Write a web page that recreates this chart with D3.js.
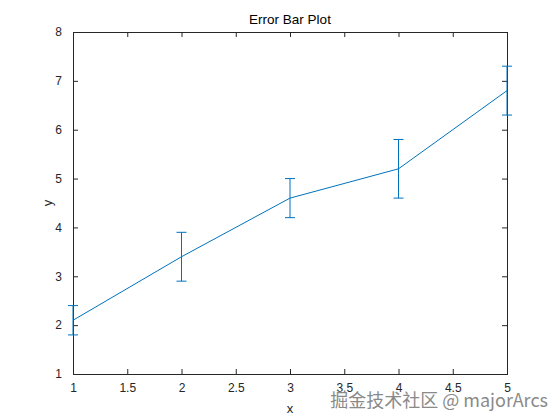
<!DOCTYPE html>
<html><head><meta charset="utf-8">
<script src="https://cdn.jsdelivr.net/npm/d3@7"></script>
<style>body{margin:0;background:#fff;} text{font-family:"Liberation Sans",Arial,sans-serif;}</style>
</head><body>
<svg id="c" width="560" height="420"></svg>
<script>
const xValues = [1, 2, 3, 4, 5];
const yValues = [2.1, 3.4, 4.6, 5.2, 6.8];
const errValues = [0.3, 0.5, 0.4, 0.6, 0.5];
const xTicks = [1, 1.5, 2, 2.5, 3, 3.5, 4, 4.5, 5];
const yTicks = [1, 2, 3, 4, 5, 6, 7, 8];

const svg = d3.select("#c");
const L = 73, R = 507, T = 32, B = 374;
const axisColor = "#262626", lineColor = "#0072BD";
const x = d3.scaleLinear().domain([1, 5]).range([L, R]);
const y = d3.scaleLinear().domain([1, 8]).range([B, T]);

function styleAxis(g){
  g.select(".domain").remove();
  g.selectAll("line").attr("stroke", axisColor);
  g.selectAll("text").attr("fill", axisColor).style("font-size", "12px");
}
svg.append("g").attr("transform", `translate(0,${B})`)
  .call(d3.axisBottom(x).tickValues(xTicks).tickSizeInner(-5).tickSizeOuter(0).tickPadding(9).tickFormat(d3.format("")))
  .call(styleAxis);
svg.append("g").attr("transform", `translate(0,${T})`)
  .call(d3.axisTop(x).tickValues(xTicks).tickSizeInner(-5).tickSizeOuter(0).tickFormat(""))
  .call(styleAxis);
svg.append("g").attr("transform", `translate(${L},0)`)
  .call(d3.axisLeft(y).tickValues(yTicks).tickSizeInner(-5).tickSizeOuter(0).tickPadding(11).tickFormat(d3.format("")))
  .call(styleAxis);
svg.append("g").attr("transform", `translate(${R},0)`)
  .call(d3.axisRight(y).tickValues(yTicks).tickSizeInner(-5).tickSizeOuter(0).tickFormat(""))
  .call(styleAxis);
svg.append("rect").attr("x", L).attr("y", T).attr("width", R - L).attr("height", B - T)
  .attr("fill", "none").attr("stroke", axisColor).attr("stroke-width", 1).attr("shape-rendering", "crispEdges");

const data = xValues.map((v, i) => ({x: v, y: yValues[i], e: errValues[i]}));
svg.append("path").datum(data)
  .attr("d", d3.line().x(d => x(d.x)).y(d => y(d.y)))
  .attr("fill", "none").attr("stroke", lineColor).attr("stroke-width", 1);
const eb = svg.append("g").attr("stroke", lineColor).attr("stroke-width", 1);
data.forEach(d => {
  const cx = x(d.x);
  eb.append("line").attr("x1", cx).attr("x2", cx).attr("y1", y(d.y - d.e)).attr("y2", y(d.y + d.e));
  eb.append("line").attr("x1", cx - 5).attr("x2", cx + 5).attr("y1", y(d.y + d.e)).attr("y2", y(d.y + d.e));
  eb.append("line").attr("x1", cx - 5).attr("x2", cx + 5).attr("y1", y(d.y - d.e)).attr("y2", y(d.y - d.e));
});

svg.append("text").attr("x", (L + R) / 2).attr("y", 24).attr("text-anchor", "middle")
  .attr("fill", "#000").style("font-size", "13.5px").text("Error Bar Plot");
svg.append("text").attr("x", (L + R) / 2).attr("y", 413).attr("text-anchor", "middle")
  .attr("fill", axisColor).style("font-size", "13px").text("x");
svg.append("text").attr("transform", `translate(52,${(T + B) / 2}) rotate(-90)`).attr("text-anchor", "middle")
  .attr("fill", axisColor).style("font-size", "13px").text("y");

svg.append("text").attr("x", 548).attr("y", 407).attr("text-anchor", "end")
  .attr("fill", "#8a8a8a").attr("stroke", "#fff").attr("stroke-width", 0.6).attr("paint-order", "stroke")
  .style("font-size", "18px").style("font-family", "'Noto Sans CJK SC', sans-serif").text("掘金技术社区 @ majorArcs");
</script>
</body></html>
